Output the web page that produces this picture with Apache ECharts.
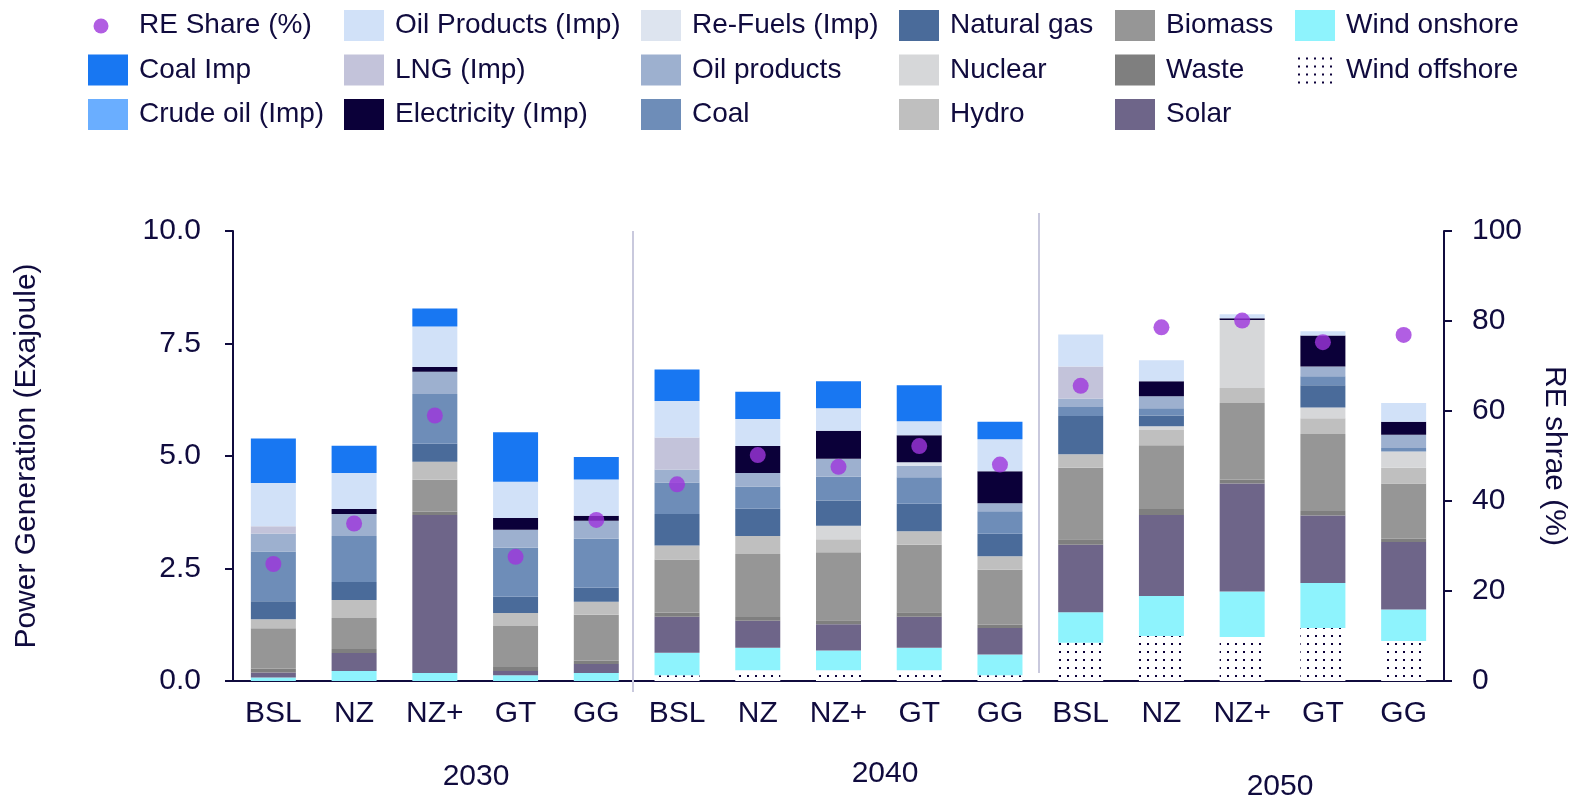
<!DOCTYPE html>
<html>
<head>
<meta charset="utf-8">
<title>Power Generation by Scenario</title>
<script src="https://cdn.jsdelivr.net/npm/echarts@6/dist/echarts.min.js"></script>
<style>
  html, body { margin: 0; padding: 0; background: #ffffff; }
  #chart { width: 1577px; height: 800px; }
</style>
</head>
<body>
<div id="chart"></div>
<script>
// Scenario labels, repeated for each milestone year
const scenarios = ['BSL', 'NZ', 'NZ+', 'GT', 'GG'];
const years = ['2030', '2040', '2050'];
const categories = years.flatMap(() => scenarios);

// Generation by source (Exajoule), 2030 x5 | 2040 x5 | 2050 x5
const windOffshore   = [0, 0, 0, 0, 0,             0.13, 0.24, 0.24, 0.24, 0.13,  0.85, 1.00, 0.98, 1.18, 0.89];
const windOnshore    = [0.08, 0.22, 0.18, 0.13, 0.18,  0.50, 0.50, 0.44, 0.50, 0.46,  0.68, 0.89, 1.01, 1.00, 0.70];
const solar          = [0.11, 0.40, 3.51, 0.09, 0.20,  0.80, 0.60, 0.58, 0.69, 0.59,  1.50, 1.80, 2.40, 1.50, 1.50];
const waste          = [0.09, 0.09, 0.07, 0.09, 0.07,  0.09, 0.08, 0.09, 0.10, 0.07,  0.12, 0.13, 0.09, 0.10, 0.07];
const biomass        = [0.89, 0.69, 0.71, 0.91, 1.02,  1.18, 1.40, 1.51, 1.50, 1.22,  1.59, 1.42, 1.70, 1.71, 1.23];
const hydro          = [0.20, 0.40, 0.40, 0.29, 0.29,  0.31, 0.40, 0.29, 0.30, 0.30,  0.30, 0.34, 0.33, 0.35, 0.35];
const nuclear        = [0, 0, 0, 0, 0,             0, 0, 0.30, 0, 0,          0, 0.08, 1.51, 0.24, 0.36];
const naturalGas     = [0.40, 0.40, 0.40, 0.36, 0.31,  0.70, 0.61, 0.56, 0.61, 0.50,  0.85, 0.24, 0, 0.49, 0];
const coal           = [1.11, 1.02, 1.11, 1.09, 1.09,  0.70, 0.49, 0.53, 0.59, 0.50,  0.20, 0.16, 0, 0.20, 0.08];
const oilProducts    = [0.40, 0.49, 0.49, 0.40, 0.40,  0.29, 0.30, 0.40, 0.25, 0.18,  0.19, 0.27, 0, 0.22, 0.29];
const reFuelsImp     = [0, 0, 0, 0, 0,             0, 0, 0, 0.08, 0,          0, 0, 0, 0, 0];
const electricityImp = [0, 0.11, 0.11, 0.26, 0.11,  0, 0.60, 0.62, 0.60, 0.71,     0, 0.33, 0.04, 0.69, 0.29];
const lngImp         = [0.16, 0, 0, 0, 0,          0.71, 0, 0, 0, 0,          0.71, 0, 0, 0, 0];
const oilProductsImp = [0.96, 0.80, 0.90, 0.81, 0.81,  0.81, 0.60, 0.50, 0.31, 0.71,  0.71, 0.47, 0.09, 0.09, 0.42];
const crudeOilImp    = [0, 0, 0, 0, 0,             0, 0, 0, 0, 0,             0, 0, 0, 0, 0];
const coalImp        = [0.99, 0.61, 0.40, 1.10, 0.50,  0.70, 0.61, 0.60, 0.80, 0.39,  0, 0, 0, 0, 0];

// Renewable share of generation (%)
const reShare = [26.0, 35.0, 59.0, 27.6, 35.8,  43.7, 50.2, 47.6, 52.2, 48.1,  65.6, 78.6, 80.1, 75.3, 76.9];

// Axis tick settings
const leftTicks = { min: 0, max: 10, interval: 2.5 };
const rightTicks = { min: 0, max: 100, interval: 20 };

const NAVY = '#100b3e';
const FONT = 'Liberation Sans, Arial, sans-serif';

// Dotted fill used for offshore wind
function dotPattern() {
  const c = document.createElement('canvas');
  c.width = 8; c.height = 8;
  const g = c.getContext('2d');
  g.fillStyle = '#ffffff';
  g.fillRect(0, 0, 8, 8);
  g.fillStyle = '#0b0039';
  g.fillRect(3, 3, 2, 2);
  return c;
}

// Small dot for the RE share legend entry
function dotIcon() {
  const c = document.createElement('canvas');
  c.width = 40; c.height = 31;
  const g = c.getContext('2d');
  g.fillStyle = '#9e36dc';
  g.beginPath();
  g.arc(13, 16, 7.5, 0, Math.PI * 2);
  g.fill();
  return 'image://' + c.toDataURL();
}

// Stack order, bottom to top
const stackDefs = [
  ['Wind offshore', windOffshore, { image: dotPattern(), repeat: 'repeat' }],
  ['Wind onshore', windOnshore, '#8ef3fd'],
  ['Solar', solar, '#6e6589'],
  ['Waste', waste, '#7f7f7f'],
  ['Biomass', biomass, '#969696'],
  ['Hydro', hydro, '#bfbfbf'],
  ['Nuclear', nuclear, '#d6d7d9'],
  ['Natural gas', naturalGas, '#4a6b9a'],
  ['Coal', coal, '#6e8db8'],
  ['Oil products', oilProducts, '#9db0cf'],
  ['Re-Fuels (Imp)', reFuelsImp, '#dde4ef'],
  ['Electricity (Imp)', electricityImp, '#0b0039'],
  ['LNG (Imp)', lngImp, '#c3c3da'],
  ['Oil Products (Imp)', oilProductsImp, '#d1e1f8'],
  ['Crude oil (Imp)', crudeOilImp, '#6aaeff'],
  ['Coal Imp', coalImp, '#1877f2']
];

const barSeries = stackDefs.map(([name, data, color]) => ({
  name: name,
  type: 'bar',
  stack: 'gen',
  barWidth: 45,
  data: data,
  itemStyle: { color: color },
  emphasis: { disabled: true }
}));

const scatterSeries = {
  name: 'RE Share (%)',
  type: 'scatter',
  yAxisIndex: 1,
  symbol: 'circle',
  symbolSize: 16,
  data: reShare,
  itemStyle: { color: '#9e36dc' },
  z: 5
};

// Legend laid out in six columns of three
const legendColumns = [
  { left: 88,   items: [{ name: 'RE Share (%)', icon: dotIcon() }, 'Coal Imp', 'Crude oil (Imp)'] },
  { left: 344,  items: ['Oil Products (Imp)', 'LNG (Imp)', 'Electricity (Imp)'] },
  { left: 641,  items: ['Re-Fuels (Imp)', 'Oil products', 'Coal'] },
  { left: 899,  items: ['Natural gas', 'Nuclear', 'Hydro'] },
  { left: 1115, items: ['Biomass', 'Waste', 'Solar'] },
  { left: 1295, items: ['Wind onshore', 'Wind offshore'] }
];

const legends = legendColumns.map(col => ({
  orient: 'vertical',
  left: col.left,
  top: 10,
  padding: 0,
  icon: 'rect',
  itemWidth: 40,
  itemHeight: 31,
  itemGap: 13.5,
  selectedMode: false,
  data: col.items,
  textStyle: {
    fontFamily: FONT,
    fontSize: 28,
    color: NAVY,
    lineHeight: 31,
    padding: [0, 0, 0, 6]
  }
}));

const axisLine = { show: true, lineStyle: { color: NAVY, width: 2 } };
const tickLabel = { fontFamily: FONT, fontSize: 30, color: NAVY };

const chart = echarts.init(document.getElementById('chart'), null, { renderer: 'canvas' });

chart.setOption({
  backgroundColor: '#ffffff',
  animation: false,
  legend: legends,
  grid: { left: 233, right: 131, top: 231, bottom: 119, containLabel: false },
  xAxis: {
    type: 'category',
    data: categories,
    axisLine: axisLine,
    axisTick: { show: false },
    axisLabel: Object.assign({ margin: 18, interval: 0 }, tickLabel)
  },
  yAxis: [
    {
      type: 'value',
      min: leftTicks.min, max: leftTicks.max, interval: leftTicks.interval,
      name: 'Power Generation (Exajoule)',
      nameLocation: 'middle',
      nameRotate: 90,
      nameGap: 191,
      nameTextStyle: { fontFamily: FONT, fontSize: 30, color: NAVY },
      axisLine: axisLine,
      axisTick: { show: true, length: 8, lineStyle: { color: NAVY, width: 2 } },
      axisLabel: Object.assign({ margin: 32, padding: [4, 0, 0, 0], formatter: v => v.toFixed(1) }, tickLabel),
      splitLine: { show: false }
    },
    {
      type: 'value',
      position: 'right',
      min: rightTicks.min, max: rightTicks.max, interval: rightTicks.interval,
      name: 'RE shrae (%)',
      nameLocation: 'middle',
      nameRotate: -90,
      nameGap: 95,
      nameTextStyle: { fontFamily: FONT, fontSize: 30, color: NAVY },
      axisLine: axisLine,
      axisTick: { show: true, length: 8, lineStyle: { color: NAVY, width: 2 } },
      axisLabel: Object.assign({ margin: 28, padding: [4, 0, 0, 0] }, tickLabel),
      splitLine: { show: false }
    }
  ],
  series: barSeries.concat([scatterSeries]),
  graphic: [
    // Year group separators
    { type: 'line', shape: { x1: 633, y1: 231, x2: 633, y2: 692 }, style: { stroke: '#c9c9dd', lineWidth: 2 }, z: 1 },
    { type: 'line', shape: { x1: 1039, y1: 213, x2: 1039, y2: 673 }, style: { stroke: '#c9c9dd', lineWidth: 2 }, z: 1 },
    // Year group labels
    { type: 'text', x: 476, y: 777, style: { text: years[0], font: '30px ' + FONT, fill: NAVY, textAlign: 'center', textVerticalAlign: 'middle' } },
    { type: 'text', x: 885, y: 774, style: { text: years[1], font: '30px ' + FONT, fill: NAVY, textAlign: 'center', textVerticalAlign: 'middle' } },
    { type: 'text', x: 1280, y: 787, style: { text: years[2], font: '30px ' + FONT, fill: NAVY, textAlign: 'center', textVerticalAlign: 'middle' } }
  ]
});
</script>
</body>
</html>
